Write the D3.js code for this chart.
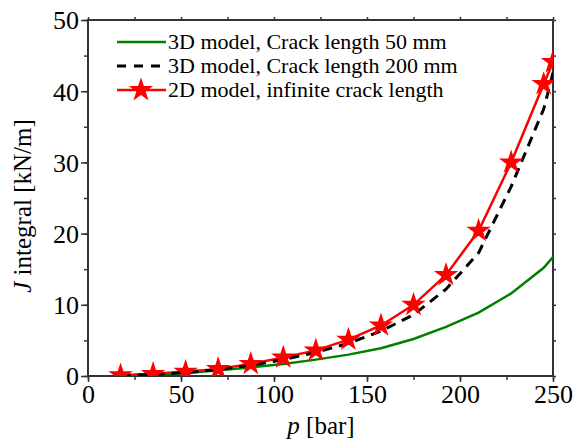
<!DOCTYPE html>
<html>
<head>
<meta charset="utf-8">
<script src="https://cdn.jsdelivr.net/npm/d3@7"></script>
<style>
  body { margin: 0; background: #fff; }
  text { font-family: "Liberation Serif", "Times New Roman", serif; }
</style>
</head>
<body>
<div id="chart"></div>
<script>
// pressure steps (bar)
var pressure = [17.5, 35, 52.5, 70, 87.5, 105, 122.5, 140, 157.5, 175, 192.5, 210, 227.5, 245, 250];
var crack50 = [0.05, 0.2, 0.4, 0.8, 1.2, 1.7, 2.3, 3.0, 3.9, 5.2, 6.9, 8.9, 11.6, 15.2, 16.7];
var crack200 = [0.05, 0.2, 0.5, 0.9, 1.5, 2.3, 3.3, 4.6, 6.3, 8.6, 12.2, 17.3, 26.6, 37.5, 42.6];
var model2d = [0.1, 0.3, 0.6, 1.0, 1.7, 2.6, 3.6, 5.1, 7.1, 10.0, 14.2, 20.4, 30.0, 41.0, 44.1];
var xTicks = [0, 50, 100, 150, 200, 250];
var yTicks = [0, 10, 20, 30, 40, 50];
var legendNames = ["3D model, Crack length 50 mm", "3D model, Crack length 200 mm", "2D model, infinite crack length"];

function drawChart() {
  var w = 573, h = 443;
  var mLeft = 88, mRight = 553, mTop = 20, mBottom = 376;

  var svg = d3.select("#chart").append("svg").attr("width", w).attr("height", h);

  var x = d3.scaleLinear().domain([0, 250]).range([mLeft, mRight]);
  var y = d3.scaleLinear().domain([0, 50]).range([mBottom, mTop]);

  svg.append("clipPath").attr("id", "plot")
    .append("rect").attr("x", mLeft).attr("y", mTop)
    .attr("width", mRight - mLeft).attr("height", mBottom - mTop);

  function styleAxis(g) {
    g.select(".domain").remove();
    g.selectAll("line").attr("stroke", "#333").attr("stroke-width", 1.5);
    g.selectAll("text").attr("font-size", "26px").attr("fill", "#000")
      .attr("font-family", "Liberation Serif");
  }

  // minor ticks
  svg.append("g").attr("transform", "translate(0," + mBottom + ")")
    .call(d3.axisBottom(x).tickValues(d3.range(0, 251, 25)).tickSize(4).tickFormat(""))
    .call(styleAxis);
  svg.append("g").attr("transform", "translate(" + mLeft + ",0)")
    .call(d3.axisLeft(y).tickValues(d3.range(0, 51, 5)).tickSize(4).tickFormat(""))
    .call(styleAxis);
  svg.append("g").attr("transform", "translate(0," + mTop + ")")
    .call(d3.axisTop(x).tickValues(d3.range(0, 251, 25)).tickSize(3).tickFormat(""))
    .call(styleAxis);
  svg.append("g").attr("transform", "translate(" + mRight + ",0)")
    .call(d3.axisRight(y).tickValues(d3.range(0, 51, 5)).tickSize(3).tickFormat(""))
    .call(styleAxis);

  // major ticks + labels
  svg.append("g").attr("transform", "translate(0," + mBottom + ")")
    .call(d3.axisBottom(x).tickValues(xTicks).tickSize(6).tickPadding(3))
    .call(styleAxis);
  var ya = svg.append("g").attr("transform", "translate(" + mLeft + ",0)")
    .call(d3.axisLeft(y).tickValues(yTicks).tickSize(7).tickPadding(2))
    .call(styleAxis);
  ya.selectAll("text").attr("dy", "0.34em");

  // frame
  svg.append("rect").attr("x", mLeft).attr("y", mTop)
    .attr("width", mRight - mLeft).attr("height", mBottom - mTop)
    .attr("fill", "none").attr("stroke", "#333").attr("stroke-width", 2);

  // axis titles
  var xt = svg.append("text").attr("x", 321).attr("y", 434)
    .attr("text-anchor", "middle").attr("font-size", "25px");
  xt.append("tspan").attr("font-style", "italic").text("p");
  xt.append("tspan").text(" [bar]");

  var yt = svg.append("text").attr("transform", "translate(31,206) rotate(-90)")
    .attr("text-anchor", "middle").attr("font-size", "25px");
  yt.append("tspan").attr("font-style", "italic").text("J");
  yt.append("tspan").text(" integral [kN/m]");

  var line = d3.line()
    .x(function (d, i) { return x(pressure[i]); })
    .y(function (d) { return y(d); });

  var plot = svg.append("g").attr("clip-path", "url(#plot)");

  plot.append("path").datum(crack50).attr("d", line)
    .attr("fill", "none").attr("stroke", "#008000").attr("stroke-width", 2.5);

  plot.append("path").datum(model2d).attr("d", line)
    .attr("fill", "none").attr("stroke", "#ff0000").attr("stroke-width", 2.5);

  plot.append("path").datum(crack200).attr("d", line)
    .attr("fill", "none").attr("stroke", "#000").attr("stroke-width", 3)
    .attr("stroke-dasharray", "10,7");

  var star = d3.symbol().type(d3.symbolStar).size(185);
  plot.selectAll(".star").data(model2d).enter().append("path")
    .attr("class", "star")
    .attr("d", star)
    .attr("transform", function (d, i) { return "translate(" + x(pressure[i]) + "," + y(d) + ")"; })
    .attr("fill", "#ff0000");

  // legend
  var lg = svg.append("g");
  var rows = [42, 66, 90];
  var colors = ["#008000", "#000", "#ff0000"];
  legendNames.forEach(function (name, i) {
    var l = lg.append("line").attr("x1", 117).attr("x2", 166)
      .attr("y1", rows[i]).attr("y2", rows[i])
      .attr("stroke", colors[i]).attr("stroke-width", i == 1 ? 3 : 2.5);
    if (i == 1) l.attr("stroke-dasharray", "9,8");
    if (i == 2) {
      lg.append("path").attr("d", star)
        .attr("transform", "translate(141," + rows[i] + ")").attr("fill", "#ff0000");
    }
    lg.append("text").attr("x", 168).attr("y", rows[i] + 7)
      .attr("font-size", "22px").text(name);
  });
}

drawChart();
</script>
</body>
</html>
